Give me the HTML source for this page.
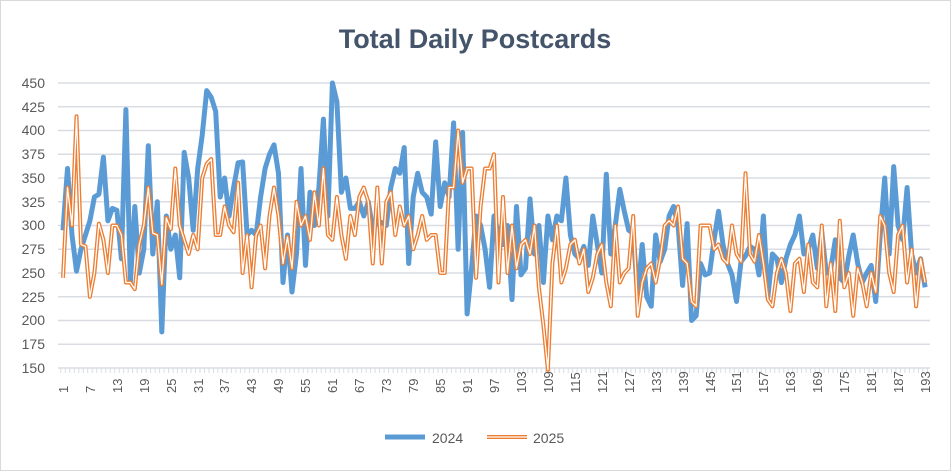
<!DOCTYPE html>
<html><head><meta charset="utf-8"><style>
body{margin:0;background:#fff}
svg{display:block;font-family:"Liberation Sans",sans-serif}
</style></head><body>
<svg id="s" width="951" height="471" viewBox="0 0 951 471" xmlns="http://www.w3.org/2000/svg">
<rect x="0.5" y="0.5" width="950" height="470" fill="#fff" stroke="#d9d9d9"/>
<text x="475" y="48" text-anchor="middle" font-size="27" font-weight="bold" fill="#44546a">Total Daily Postcards</text>
<g stroke="#d9dde3" stroke-width="1.5">
<line x1="58" x2="930" y1="83" y2="83"/><line x1="58" x2="930" y1="106.75" y2="106.75"/><line x1="58" x2="930" y1="130.5" y2="130.5"/><line x1="58" x2="930" y1="154.25" y2="154.25"/><line x1="58" x2="930" y1="178" y2="178"/><line x1="58" x2="930" y1="201.75" y2="201.75"/><line x1="58" x2="930" y1="225.5" y2="225.5"/><line x1="58" x2="930" y1="249.25" y2="249.25"/><line x1="58" x2="930" y1="273" y2="273"/><line x1="58" x2="930" y1="296.75" y2="296.75"/><line x1="58" x2="930" y1="320.5" y2="320.5"/><line x1="58" x2="930" y1="344.25" y2="344.25"/><line x1="58" x2="930" y1="368" y2="368"/>
</g>
<g font-size="14" fill="#595959" text-anchor="end">
<text x="45" y="88">450</text><text x="45" y="112">425</text><text x="45" y="135">400</text><text x="45" y="159">375</text><text x="45" y="183">350</text><text x="45" y="207">325</text><text x="45" y="230">300</text><text x="45" y="254">275</text><text x="45" y="278">250</text><text x="45" y="302">225</text><text x="45" y="325">200</text><text x="45" y="349">175</text><text x="45" y="373">150</text>
</g>
<g id="ticks" stroke="#d9dde3" stroke-width="1"></g>
<g font-size="13" fill="#595959">
<text transform="translate(68,393) rotate(-90)">1</text>
<text transform="translate(95,393) rotate(-90)">7</text>
<text transform="translate(122,393) rotate(-90)">13</text>
<text transform="translate(149,393) rotate(-90)">19</text>
<text transform="translate(176,393) rotate(-90)">25</text>
<text transform="translate(203,393) rotate(-90)">31</text>
<text transform="translate(229,393) rotate(-90)">37</text>
<text transform="translate(256,393) rotate(-90)">43</text>
<text transform="translate(283,393) rotate(-90)">49</text>
<text transform="translate(310,393) rotate(-90)">55</text>
<text transform="translate(337,393) rotate(-90)">61</text>
<text transform="translate(364,393) rotate(-90)">67</text>
<text transform="translate(391,393) rotate(-90)">73</text>
<text transform="translate(418,393) rotate(-90)">79</text>
<text transform="translate(445,393) rotate(-90)">85</text>
<text transform="translate(472,393) rotate(-90)">91</text>
<text transform="translate(499,393) rotate(-90)">97</text>
<text transform="translate(526,393) rotate(-90)">103</text>
<text transform="translate(553,393) rotate(-90)">109</text>
<text transform="translate(580,393) rotate(-90)">115</text>
<text transform="translate(607,393) rotate(-90)">121</text>
<text transform="translate(634,393) rotate(-90)">127</text>
<text transform="translate(661,393) rotate(-90)">133</text>
<text transform="translate(688,393) rotate(-90)">139</text>
<text transform="translate(715,393) rotate(-90)">145</text>
<text transform="translate(741,393) rotate(-90)">151</text>
<text transform="translate(768,393) rotate(-90)">157</text>
<text transform="translate(795,393) rotate(-90)">163</text>
<text transform="translate(822,393) rotate(-90)">169</text>
<text transform="translate(849,393) rotate(-90)">175</text>
<text transform="translate(876,393) rotate(-90)">181</text>
<text transform="translate(903,393) rotate(-90)">187</text>
<text transform="translate(930,393) rotate(-90)">193</text>
</g>
<polyline id="b" fill="none" stroke="#5b9bd5" stroke-width="5" stroke-linejoin="round"/>
<polyline id="o1" fill="none" stroke="#ed7d31" stroke-width="4" stroke-linejoin="round"/>
<polyline id="o2" fill="none" stroke="#fff" stroke-width="1.3" stroke-linejoin="round"/>
<line x1="385" x2="425" y1="437" y2="437" stroke="#5b9bd5" stroke-width="5"/>
<text x="432" y="443" font-size="14" fill="#595959">2024</text>
<line x1="487" x2="527" y1="437" y2="437" stroke="#ed7d31" stroke-width="4"/>
<line x1="487" x2="527" y1="437" y2="437" stroke="#fff" stroke-width="1.3"/>
<text x="533" y="443" font-size="14" fill="#595959">2025</text>
</svg>
<script>
var B=[295,360,290,252,275,290,305,330,333,372,305,318,316,265,422,240,320,250,275,384,270,325,188,310,275,290,245,377,350,295,360,395,442,435,420,330,350,310,340,366,367,290,295,290,330,360,375,385,355,240,290,230,270,360,258,335,300,340,412,310,450,430,335,350,318,318,325,310,325,295,305,303,300,340,360,355,382,260,330,355,335,330,312,388,320,345,330,408,275,398,207,255,310,300,275,235,310,292,280,300,222,320,248,255,328,270,300,240,310,285,310,305,350,290,270,265,278,258,310,280,250,354,270,300,338,315,295,292,225,280,225,215,290,262,275,310,320,300,237,302,200,205,260,248,250,285,315,280,260,248,220,262,268,278,275,248,310,225,270,265,240,265,280,290,310,270,275,290,255,293,250,255,285,245,240,268,290,260,240,250,258,220,290,350,270,362,300,285,340,270,250,265,235];
var O=[245,340,300,415,280,278,225,250,302,285,250,300,300,290,240,240,233,280,300,340,292,290,238,308,296,360,300,285,270,290,275,350,365,370,290,290,320,300,293,345,250,290,235,290,300,255,310,340,310,260,288,255,325,300,310,285,335,300,360,290,285,330,290,265,310,290,330,340,325,260,340,260,325,335,290,320,300,310,275,290,310,285,290,290,250,250,340,340,400,345,360,360,245,320,360,360,375,240,330,250,300,255,280,285,270,300,235,195,148,260,300,240,255,280,285,260,275,230,245,270,280,240,215,300,240,250,255,310,205,240,255,260,240,265,300,305,300,320,265,260,220,215,300,300,300,275,280,265,260,300,270,262,355,270,262,290,260,222,215,250,265,250,210,260,265,230,280,240,235,300,215,260,210,305,235,250,205,255,240,215,250,230,310,300,250,230,290,300,240,275,215,265,240];
function pts(a){return a.map(function(v,i){return (63+i*4.49).toFixed(1)+","+(368-(v-150)*0.95).toFixed(1)}).join(" ")}
document.getElementById("b").setAttribute("points",pts(B));
document.getElementById("o1").setAttribute("points",pts(O));
document.getElementById("o2").setAttribute("points",pts(O));
var t="";for(var i=0;i<=193;i++){var x=(60.8+i*4.49).toFixed(1);t+='<line x1="'+x+'" x2="'+x+'" y1="368" y2="373"/>';}
document.getElementById("ticks").innerHTML=t;
</script>
</body></html>
